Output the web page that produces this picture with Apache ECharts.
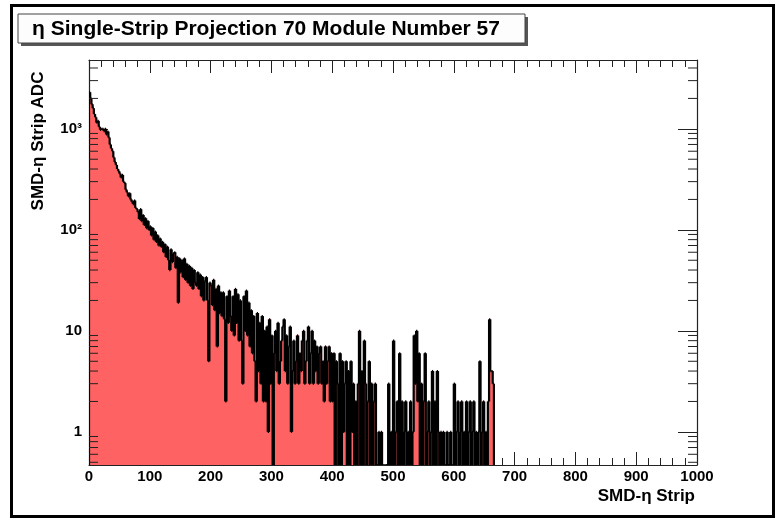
<!DOCTYPE html>
<html><head><meta charset="utf-8">
<script src="https://cdn.jsdelivr.net/npm/echarts@6/dist/echarts.min.js"></script>
<style>html,body{margin:0;padding:0;background:#fff}#c{width:777px;height:521px}</style>
</head><body><div id="c"></div>
<script>
const titleText = 'η Single-Strip Projection 70 Module Number 57';
const xTitle = 'SMD-η Strip';
const yTitle = 'SMD-η Strip ADC';
const binWidth = 2;
// counts per 2-unit bin; each row covers 20 units (0-18, 20-38, ...)
const counts = [
 2300,2000,1750,1600,1400,1300,1150,1200,1050,980,
 1000,1000,950,1000,880,940,820,700,640,600,
 520,470,440,400,380,360,330,350,300,290,
 250,235,215,230,200,190,180,195,165,160,
 150,128,160,122,140,112,130,104,122,100,
 108,88,104,80,96,76,88,70,82,68,
 76,60,72,54,68,50,40,64,48,58,
 60,42,54,19,52,38,50,34,52,32,
 46,30,44,28,42,26,40,30,28,38,
 26,36,22,34,20,31,34,20,5,30,
 28,18,32,16,26,7,28,15,24,14,
 24,13,2,22,12,25,14,10,22,9,
 26,12,23,8,20,8,3,22,10,25,
 9,19,7,16,6,14,5,2,15,4,
 12,3,14,2,10,2,11,1,13,3,
 9,0,6,10,4,12,3,5,8,11,
 13,4,9,3,7,11,1,4,8,3,
 5,9,3,6,4,8,10,3,5,8,
 11,3,6,10,3,8,4,7,3,6,
 7,3,5,2,7,3,5,7,2,6,
 2,6,0,5,3,0,6,0,5,1,
 3,5,0,4,0,5,1,3,0,2,
 0,3,10,0,4,0,8,3,0,2,
 5,0,3,0,2,3,0,0,1,0,
 1,0,0,0,0,0,3,0,1,0,
 8,0,1,2,0,6,0,2,0,1,
 2,0,1,0,2,0,1,9,3,10,
 2,6,0,3,0,2,6,0,1,2,
 0,1,4,0,2,0,4,1,0,1,
 0,1,0,0,1,0,0,1,0,0,
 3,0,1,2,0,1,2,0,1,0,
 2,0,1,2,0,1,2,0,1,0,
 1,5,0,1,2,0,1,0,2,13,
 4,4,3
];
const xMin = 0, xMax = 1000, xStep = 100;
const yMin = 0.47, yMax = 4800;
const yMajorLabels = {'0':'1','1':'10','2':'10²','3':'10³'};
const yMinorTicks = [0.5,0.6,0.7,0.8,0.9,2,3,4,5,6,7,8,9,20,30,40,50,60,70,80,90,200,300,400,500,600,700,800,900,2000,3000,4000];

const F = '"Liberation Sans", Arial, Helvetica, sans-serif';
const axisColor = '#222';
const chart = echarts.init(document.getElementById('c'), null, {renderer:'canvas'});

function xAxisDef(pos, showLabel){
  return {type:'value', min:xMin, max:xMax, interval:xStep, position:pos,
    axisLine:{show:true, onZero:false, lineStyle:{color:axisColor, width:1.2}},
    axisTick:{show:true, inside:true, length:13, lineStyle:{color:axisColor, width:1}},
    minorTick:{show:true, splitNumber:5, length:7, lineStyle:{color:axisColor, width:1}},
    axisLabel:{show:showLabel, fontFamily:F, fontWeight:'bold', fontSize:15, color:'#000', margin:4,
      formatter:function(v){return String(v);}},
    splitLine:{show:false}, minorSplitLine:{show:false}};
}
function yAxisDef(pos, showLabel){
  return {type:'log', logBase:10, min:yMin, max:yMax, position:pos,
    axisLine:{show:true, onZero:false, lineStyle:{color:axisColor, width:1.2}},
    axisTick:{show:true, inside:true, length:19, lineStyle:{color:axisColor, width:1}},
    axisLabel:{show:showLabel, fontFamily:F, fontWeight:'bold', fontSize:15, color:'#000', margin:7,
      formatter:function(v){const e=Math.log10(v); const r=Math.round(e); if(Math.abs(e-r)<1e-6 && yMajorLabels[String(r)]!==undefined) return yMajorLabels[String(r)]; return '';}},
    splitLine:{show:false}};
}

const histData = counts.map((c,i)=>[i*binWidth, Math.max(c,yMin), i>0?Math.max(counts[i-1],yMin):yMin, i===counts.length-1?1:0]);

const option = {
  animation:false,
  backgroundColor:'#fff',
  grid:{left:89, right:80, top:60, bottom:56, show:false},
  xAxis:[xAxisDef('bottom', true), xAxisDef('top', false)],
  yAxis:[yAxisDef('left', true), yAxisDef('right', false)],
  series:[
    {type:'custom', name:'fill', xAxisIndex:0, yAxisIndex:0, clip:true, silent:true,
     encode:{x:0, y:1}, data:histData,
     renderItem:function(params, api){
       const x0=api.value(0), v=api.value(1);
       const p0=api.coord([x0, v]), p1=api.coord([x0+binWidth, yMin]);
       const xl=Math.floor(p0[0]), xr=Math.ceil(p1[0]);
       return {type:'rect', shape:{x:xl, y:p0[1], width:xr-xl, height:p1[1]-p0[1]},
               style:{fill:'#ff6262'}};
     }},
    {type:'custom', name:'outline', xAxisIndex:0, yAxisIndex:0, clip:true, silent:true,
     encode:{x:0, y:1}, data:histData,
     renderItem:function(params, api){
       const x0=api.value(0), v=api.value(1), pv=api.value(2), last=api.value(3);
       const p0=api.coord([x0, v]), pp=api.coord([x0, pv]), p1=api.coord([x0+binWidth, yMin]);
       const st={stroke:'#000', lineWidth:2.2};
       const ch=[
         {type:'line', shape:{x1:p0[0], y1:pp[1], x2:p0[0], y2:p0[1]}, style:st},
         {type:'line', shape:{x1:p0[0], y1:p0[1], x2:p1[0], y2:p0[1]}, style:st}
       ];
       if(last) ch.push({type:'line', shape:{x1:p1[0], y1:p0[1], x2:p1[0], y2:p1[1]}, style:st});
       return {type:'group', children:ch};
     }},
    {type:'custom', name:'yminor', xAxisIndex:0, yAxisIndex:0, clip:false, silent:true,
     encode:{x:0, y:1}, data:yMinorTicks.map(v=>[xMin, v]),
     renderItem:function(params, api){
       const v=api.value(1);
       const l=api.coord([xMin, v]), r=api.coord([xMax, v]);
       const st={stroke:axisColor, lineWidth:1};
       return {type:'group', children:[
         {type:'line', shape:{x1:l[0], y1:l[1], x2:l[0]+9, y2:l[1]}, style:st},
         {type:'line', shape:{x1:r[0], y1:r[1], x2:r[0]-9, y2:r[1]}, style:st}
       ]};
     }}
  ],
  graphic:[
    {type:'rect', shape:{x:11.5, y:5.5, width:762, height:511}, style:{fill:'none', stroke:'#000', lineWidth:3}, silent:true},
    {type:'rect', shape:{x:21, y:17, width:507, height:29}, style:{fill:'#555'}, silent:true},
    {type:'rect', shape:{x:18, y:14, width:507, height:29}, style:{fill:'#fdfdfd', stroke:'#444', lineWidth:1}, silent:true},
    {type:'text', x:266, y:29, style:{text:titleText, fontFamily:F, fontWeight:'bold', fontSize:21, fill:'#000', align:'center', verticalAlign:'middle'}, silent:true},
    {type:'text', x:38, y:141, rotation:Math.PI/2, style:{text:yTitle, fontFamily:F, fontWeight:'bold', fontSize:17, fill:'#000', align:'center', verticalAlign:'middle'}, silent:true},
    {type:'text', x:695, y:496, style:{text:xTitle, fontFamily:F, fontWeight:'bold', fontSize:17, fill:'#000', align:'right', verticalAlign:'middle'}, silent:true}
  ]
};
chart.setOption(option);
</script></body></html>
